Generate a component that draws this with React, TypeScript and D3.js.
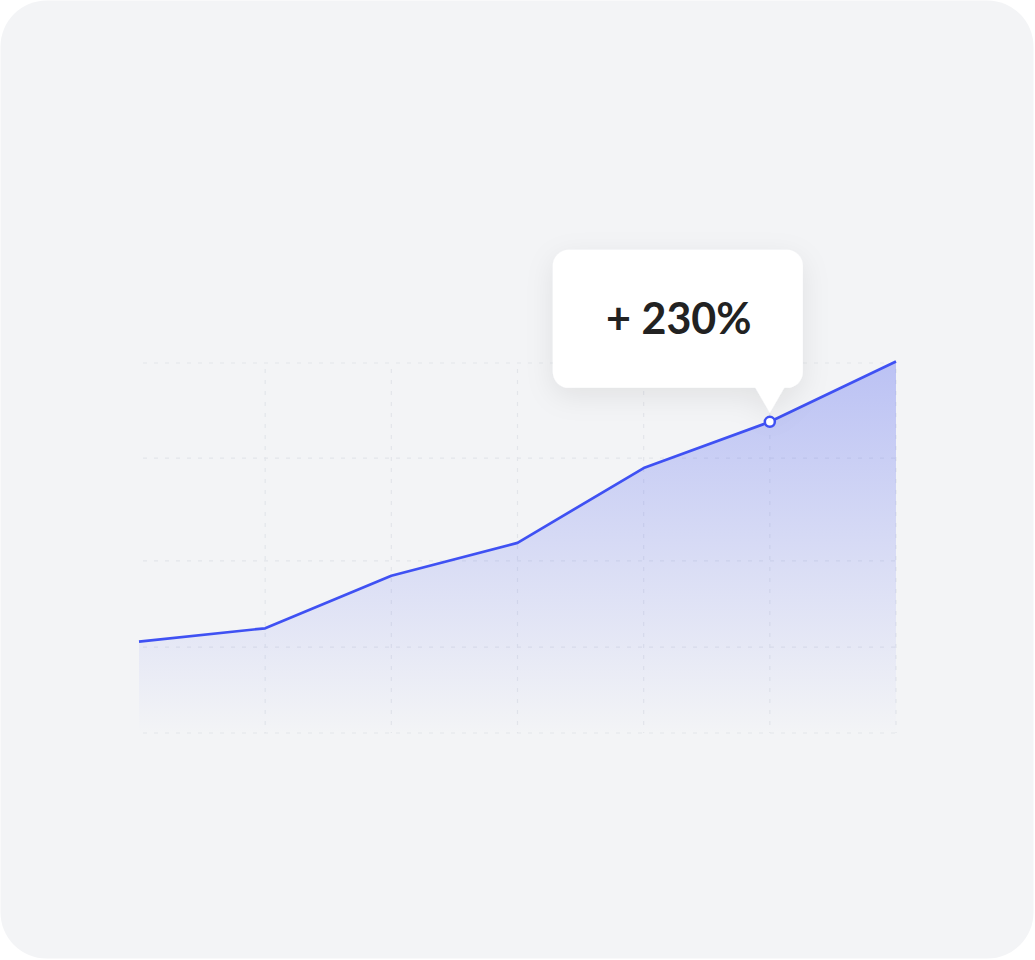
import React from 'react';
import * as d3 from 'd3';

// chart values
const periods = ['1', '2', '3', '4', '5', '6', '7'];
const growth = [24.7, 28.3, 42.5, 51.4, 71.6, 84.1, 100.4];
const gridLevels = [0, 23.2, 46.5, 74.3, 100];
const highlightIndex = 5;
const highlightLabel = '+ 230%';

const W = 1035;
const H = 960;

const App: React.FC = () => {
  const x = d3.scalePoint<string>().domain(periods).range([139, 896]);
  const y = d3.scaleLinear().domain([0, 100]).range([733, 363]);

  const pts = periods.map((p, i) => ({ p, v: growth[i] }));

  const line = d3.line<{ p: string; v: number }>()
    .x(d => x(d.p)!)
    .y(d => y(d.v));

  const area = d3.area<{ p: string; v: number }>()
    .x(d => x(d.p)!)
    .y0(y(0))
    .y1(d => y(d.v));

  const hx = x(periods[highlightIndex])!;
  const hy = y(growth[highlightIndex]);

  // tooltip box
  const tipW = 250;
  const tipH = 138;
  const tipX = hx - 217;
  const tipY = hy - 172;
  const tipBottom = tipY + tipH;

  const [x0, x1] = x.range();

  return (
    <svg
      width={W}
      height={H}
      style={{ position: 'absolute', left: 0, top: 0, display: 'block' }}
    >
      <defs>
        <linearGradient id="areaFill" gradientUnits="userSpaceOnUse" x1="0" y1={y(100)} x2="0" y2={y(0)}>
          <stop offset="0%" stopColor="#4a5cf0" stopOpacity={0.33} />
          <stop offset="100%" stopColor="#4a5cf0" stopOpacity={0} />
        </linearGradient>
        <filter id="tipShadow" x="-30%" y="-40%" width="160%" height="190%">
          <feDropShadow dx="0" dy="8" stdDeviation="14" floodColor="#000" floodOpacity="0.08" />
        </filter>
      </defs>

      <rect x={0.5} y={0.5} width={W - 2} height={H - 2} rx={46} fill="#f3f4f6" />

      {/* grid */}
      <g stroke="#e3e5ea" strokeWidth={1.2} strokeDasharray="4 7">
        {gridLevels.map(g => (
          <line key={'h' + g} x1={x0 + 4} x2={x1} y1={y(g)} y2={y(g)} />
        ))}
        {periods.slice(1).map(p => (
          <line key={'v' + p} x1={x(p)} x2={x(p)} y1={y(100) + 6} y2={y(0)} />
        ))}
      </g>

      <path d={area(pts)!} fill="url(#areaFill)" />
      <path d={line(pts)!} fill="none" stroke="#3f51f3" strokeWidth={2.7} strokeLinejoin="round" />

      {/* tooltip */}
      <g filter="url(#tipShadow)">
        <rect x={tipX} y={tipY} width={tipW} height={tipH} rx={16} fill="#fff" />
        <path
          d={`M${hx - 15},${tipBottom - 1} L${hx + 15},${tipBottom - 1} L${hx},${hy - 9} Z`}
          fill="#fff"
        />
      </g>
      <text
        x={tipX + tipW / 2 + 1}
        y={tipY + 84}
        textAnchor="middle"
        fontFamily="Lato, 'Open Sans', sans-serif"
        fontWeight={700}
        fontSize={43}
        fill="#222"
      >
        {highlightLabel}
      </text>

      <circle cx={hx} cy={hy} r={5} fill="#fff" stroke="#3f51f3" strokeWidth={2.5} />
    </svg>
  );
};

export default App;
